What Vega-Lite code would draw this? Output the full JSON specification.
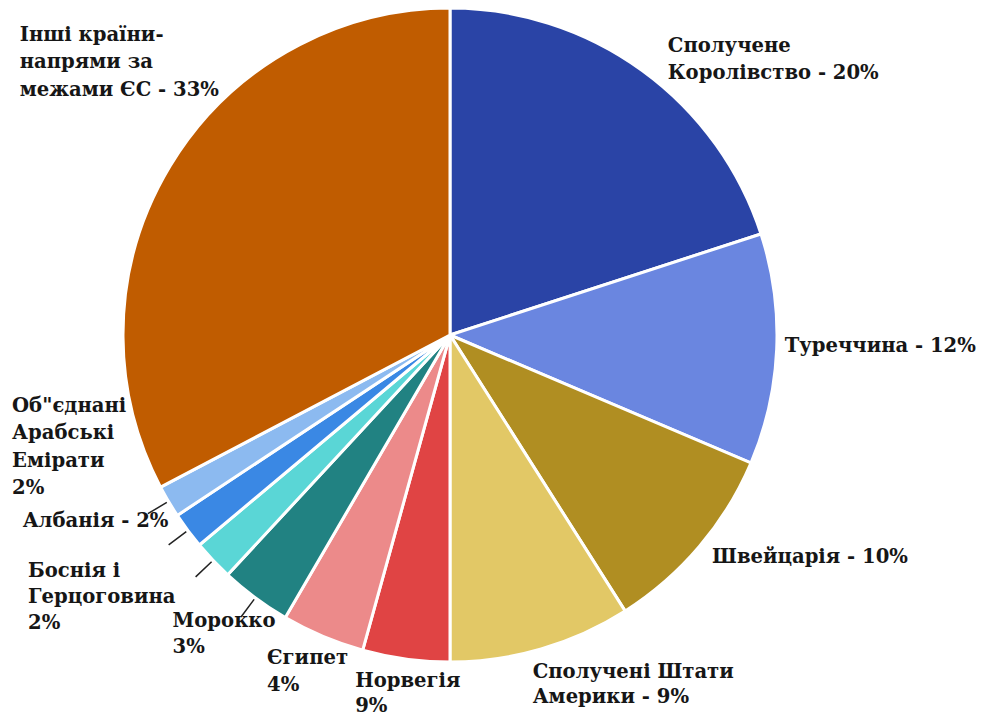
{
  "$schema": "https://vega.github.io/schema/vega-lite/v6.json",
  "width": 900,
  "height": 670,
  "padding": 0,
  "background": "white",
  "config": {"view": {"stroke": null}, "text": {"font": "DejaVu Serif", "fontWeight": "bold", "fontSize": 19.6, "color": "#161616"}},
  "data": {
    "values": [
      {"key": "uk", "label": ["Сполучене", "Королівство - 20%"], "value": 20, "order": 1},
      {"key": "tr", "label": ["Туреччина - 12%"], "value": 11.4, "order": 2},
      {"key": "ch", "label": ["Швейцарія - 10%"], "value": 9.6, "order": 3},
      {"key": "us", "label": ["Сполучені Штати", "Америки - 9%"], "value": 9, "order": 4},
      {"key": "no", "label": ["Норвегія", "9%"], "value": 4.3, "order": 5},
      {"key": "eg", "label": ["Єгипет", "4%"], "value": 4.1, "order": 6},
      {"key": "ma", "label": ["Морокко", "3%"], "value": 3.5, "order": 7},
      {"key": "ba", "label": ["Боснія і", "Герцоговина", "2%"], "value": 2, "order": 8},
      {"key": "al", "label": ["Албанія - 2%"], "value": 1.8, "order": 9},
      {"key": "ae", "label": ["Об\"єднані", "Арабські", "Емірати", "2%"], "value": 1.6, "order": 10},
      {"key": "ot", "label": ["Інші країни-", "напрями за", "межами ЄС - 33%"], "value": 32.7, "order": 11}
    ]
  },
  "transform": [
    {"window": [{"op": "sum", "field": "value", "as": "cum"}], "sort": [{"field": "order"}], "frame": [null, 0]},
    {"calculate": "datum.cum - datum.value / 2", "as": "mid"}
  ],
  "layer": [
    {
      "mark": {"type": "arc", "radius": 327, "stroke": "white", "strokeWidth": 3},
      "encoding": {
        "theta": {"field": "value", "type": "quantitative", "stack": true},
        "order": {"field": "order", "type": "quantitative"},
        "color": {
          "field": "key", "type": "nominal", "legend": null,
          "scale": {
            "domain": ["uk", "tr", "ch", "us", "no", "eg", "ma", "ba", "al", "ae", "ot"],
            "range": ["#2a44a6", "#6a86e0", "#b08e22", "#e2c866", "#e04444", "#ec8a8a", "#218282", "#5ad6d6", "#3a88e4", "#8cbaf0", "#c05c00"]
          }
        }
      }
    },
    {
      "transform": [{"filter": {"field": "key", "oneOf": ["ma", "ba", "al", "ae"]}}],
      "mark": {"type": "arc", "radius": 351, "radius2": 329, "stroke": "#222222", "strokeWidth": 1.5, "fillOpacity": 0},
      "encoding": {
        "theta": {"field": "mid", "type": "quantitative", "stack": null},
        "theta2": {"field": "mid"}
      }
    },
    {"transform": [{"filter": "datum.key == 'uk'"}], "mark": {"type": "text", "radius": 345, "align": "left", "baseline": "alphabetic", "dx": 15, "dy": -4, "lineHeight": 27}, "encoding": {"theta": {"field": "mid", "type": "quantitative", "stack": null}, "text": {"field": "label"}}},
    {"transform": [{"filter": "datum.key == 'tr'"}], "mark": {"type": "text", "radius": 340, "align": "left", "baseline": "alphabetic", "dx": -5, "dy": 2, "lineHeight": 27}, "encoding": {"theta": {"field": "mid", "type": "quantitative", "stack": null}, "text": {"field": "label"}}},
    {"transform": [{"filter": "datum.key == 'ch'"}], "mark": {"type": "text", "radius": 345, "align": "left", "baseline": "alphabetic", "dx": -1, "dy": 5, "lineHeight": 27}, "encoding": {"theta": {"field": "mid", "type": "quantitative", "stack": null}, "text": {"field": "label"}}},
    {"transform": [{"filter": "datum.key == 'us'"}], "mark": {"type": "text", "radius": 350, "align": "left", "baseline": "alphabetic", "dx": -15, "dy": 7, "lineHeight": 25}, "encoding": {"theta": {"field": "mid", "type": "quantitative", "stack": null}, "text": {"field": "label"}}},
    {"transform": [{"filter": "datum.key == 'no'"}], "mark": {"type": "text", "radius": 355, "align": "left", "baseline": "alphabetic", "dx": -47, "dy": 0, "lineHeight": 25}, "encoding": {"theta": {"field": "mid", "type": "quantitative", "stack": null}, "text": {"field": "label"}}},
    {"transform": [{"filter": "datum.key == 'eg'"}], "mark": {"type": "text", "radius": 350, "align": "left", "baseline": "alphabetic", "dx": -47, "dy": 6, "lineHeight": 27}, "encoding": {"theta": {"field": "mid", "type": "quantitative", "stack": null}, "text": {"field": "label"}}},
    {"transform": [{"filter": "datum.key == 'ma'"}], "mark": {"type": "text", "radius": 350, "align": "left", "baseline": "alphabetic", "dx": -69, "dy": 11, "lineHeight": 26}, "encoding": {"theta": {"field": "mid", "type": "quantitative", "stack": null}, "text": {"field": "label"}}},
    {"transform": [{"filter": "datum.key == 'ba'"}], "mark": {"type": "text", "radius": 345, "align": "left", "baseline": "alphabetic", "dx": -172, "dy": 4, "lineHeight": 26}, "encoding": {"theta": {"field": "mid", "type": "quantitative", "stack": null}, "text": {"field": "label"}}},
    {"transform": [{"filter": "datum.key == 'al'"}], "mark": {"type": "text", "radius": 345, "align": "right", "baseline": "alphabetic", "dx": -5, "dy": -14, "lineHeight": 27}, "encoding": {"theta": {"field": "mid", "type": "quantitative", "stack": null}, "text": {"field": "label"}}},
    {"transform": [{"filter": "datum.key == 'ae'"}], "mark": {"type": "text", "radius": 345, "align": "left", "baseline": "alphabetic", "dx": -141, "dy": -99, "lineHeight": 27.5}, "encoding": {"theta": {"field": "mid", "type": "quantitative", "stack": null}, "text": {"field": "label"}}},
    {"transform": [{"filter": "datum.key == 'ot'"}], "mark": {"type": "text", "radius": 345, "align": "left", "baseline": "alphabetic", "dx": -135, "dy": -116, "lineHeight": 27.5}, "encoding": {"theta": {"field": "mid", "type": "quantitative", "stack": null}, "text": {"field": "label"}}}
  ]
}
